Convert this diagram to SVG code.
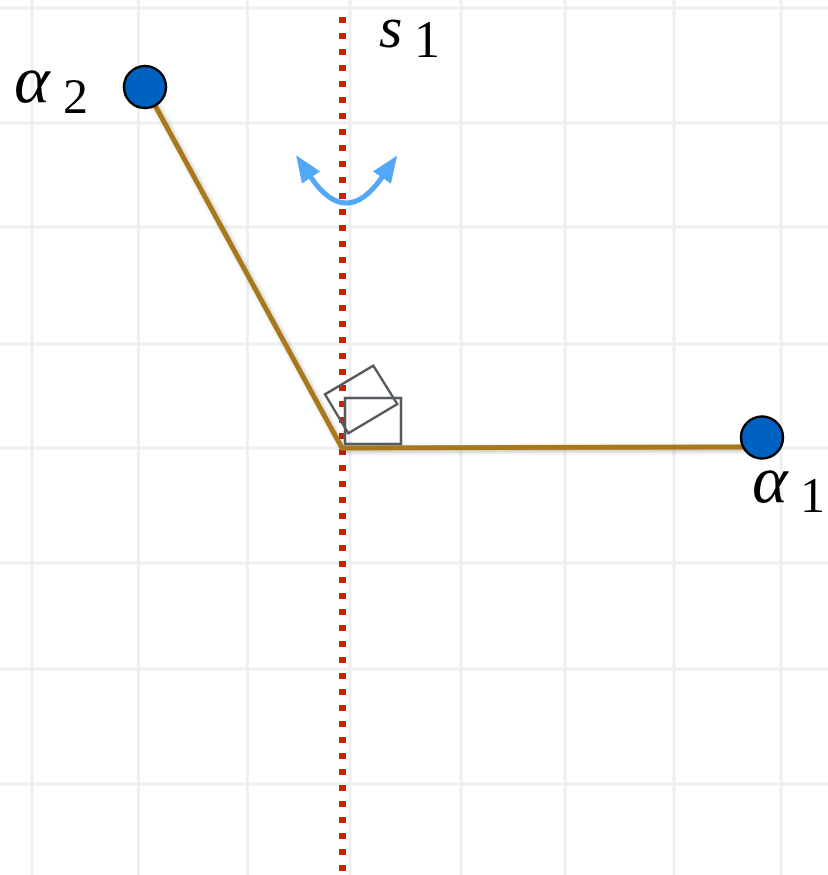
<svg xmlns="http://www.w3.org/2000/svg" width="828" height="875" viewBox="0 0 828 875">
  <defs>
    <style>
      .grid line { stroke: #eeeff0; stroke-width: 3; }
      .mirror { stroke: #c82308; stroke-width: 7; stroke-dasharray: 6 10; fill: none; }
      .root { stroke: #a8781c; stroke-width: 5; fill: none; stroke-linecap: round; filter: url(#shadow); }
      .node { fill: #0062c0; stroke: #000; stroke-width: 2.5; }
      .angle { fill: none; stroke: #555a60; stroke-width: 2.5; }
      .flip { fill: none; stroke: #52a8f6; stroke-width: 5; }
      .var { font-family: 'Liberation Serif', 'Times New Roman', serif; font-style: italic; fill: #000; }
      .sub { font-family: 'Liberation Serif', 'Times New Roman', serif; fill: #000; }
    </style>
    <filter id="shadow" x="-20%" y="-20%" width="140%" height="140%">
      <feDropShadow dx="2" dy="2" stdDeviation="2" flood-color="#000" flood-opacity="0.25"/>
    </filter>
    <marker id="head" markerUnits="userSpaceOnUse" markerWidth="30" markerHeight="24" refX="2" refY="12" orient="auto-start-reverse" viewBox="0 0 30 24">
      <path d="M0,1 L27,12 L0,23 z" fill="#52a8f6"/>
    </marker>
  </defs>

  <rect width="828" height="875" fill="#ffffff"/>

  <g class="grid">
    <line x1="32" y1="0" x2="32" y2="875"/>
    <line x1="138.5" y1="0" x2="138.5" y2="875"/>
    <line x1="247.5" y1="0" x2="247.5" y2="875"/>
    <line x1="350" y1="0" x2="350" y2="875"/>
    <line x1="461" y1="0" x2="461" y2="875"/>
    <line x1="565" y1="0" x2="565" y2="875"/>
    <line x1="674" y1="0" x2="674" y2="875"/>
    <line x1="781" y1="0" x2="781" y2="875"/>
    <line x1="0" y1="8" x2="828" y2="8"/>
    <line x1="0" y1="123" x2="828" y2="123"/>
    <line x1="0" y1="227" x2="828" y2="227"/>
    <line x1="0" y1="344" x2="828" y2="344"/>
    <line x1="0" y1="448" x2="828" y2="448"/>
    <line x1="0" y1="563" x2="828" y2="563"/>
    <line x1="0" y1="669" x2="828" y2="669"/>
    <line x1="0" y1="784" x2="828" y2="784"/>
  </g>

  <g id="mirror-s1">
    <line class="mirror" x1="342.5" y1="17" x2="342.5" y2="875"/>
    <text class="var" x="379" y="47" font-size="60">s</text>
    <text class="sub" x="414" y="57" font-size="52">1</text>
  </g>

  <g id="connectors">
    <polyline class="root" points="145,87 342,448 742,447"/>
    <path class="flip" d="M 310 176 Q 346 230 383 176" marker-start="url(#head)" marker-end="url(#head)"/>
  </g>

  <g id="right-angle">
    <polygon class="angle" points="325,394.3 373.3,365.7 397.3,404 348.3,433.3"/>
    <rect class="angle" x="345" y="398" width="56" height="46"/>
  </g>

  <g id="alpha2">
    <circle class="node" cx="145" cy="87" r="21"/>
    <text class="var" x="14" y="102" font-size="68">α</text>
    <text class="sub" x="63" y="113" font-size="50">2</text>
  </g>

  <g id="alpha1">
    <circle class="node" cx="762" cy="437.5" r="21"/>
    <text class="var" x="752" y="502" font-size="68">α</text>
    <text class="sub" x="800" y="512" font-size="50">1</text>
  </g>
</svg>
